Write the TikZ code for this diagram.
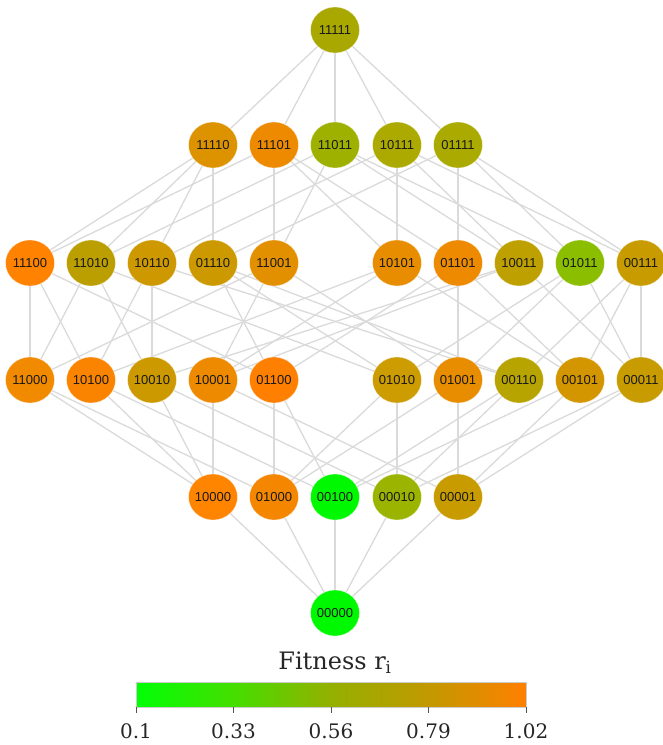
\documentclass[tikz,border=0pt]{standalone}
\usepackage{fontspec}
\setmainfont{DejaVu Serif}
\newfontfamily\labelfont{Liberation Sans}
\usetikzlibrary{shapes.geometric,backgrounds}

% node fill colours
\definecolor{c11111}{HTML}{A9A800}
\definecolor{c11110}{HTML}{DD9300}
\definecolor{c11101}{HTML}{EE8A00}
\definecolor{c11011}{HTML}{9EB000}
\definecolor{c10111}{HTML}{ACAA00}
\definecolor{c01111}{HTML}{AAAA00}
\definecolor{c11100}{HTML}{FF8200}
\definecolor{c11010}{HTML}{BB9E00}
\definecolor{c10110}{HTML}{CE9800}
\definecolor{c01110}{HTML}{CC9A00}
\definecolor{c11001}{HTML}{E39000}
\definecolor{c10101}{HTML}{E88D00}
\definecolor{c01101}{HTML}{EE8A00}
\definecolor{c10011}{HTML}{BEA000}
\definecolor{c01011}{HTML}{8CBE00}
\definecolor{c00111}{HTML}{C89C00}
\definecolor{c11000}{HTML}{F28A00}
\definecolor{c10100}{HTML}{FA8400}
\definecolor{c10010}{HTML}{CC9A00}
\definecolor{c10001}{HTML}{EE8A00}
\definecolor{c01100}{HTML}{FF8000}
\definecolor{c01010}{HTML}{CC9C00}
\definecolor{c01001}{HTML}{E88C00}
\definecolor{c00110}{HTML}{B8A400}
\definecolor{c00101}{HTML}{D49600}
\definecolor{c00011}{HTML}{C89C00}
\definecolor{c10000}{HTML}{FF8400}
\definecolor{c01000}{HTML}{F48600}
\definecolor{c00100}{HTML}{00F800}
\definecolor{c00010}{HTML}{9AB400}
\definecolor{c00001}{HTML}{C89C00}
\definecolor{c00000}{HTML}{00F800}
\definecolor{edgegray}{HTML}{DADADA}
\definecolor{tickgray}{HTML}{555555}

\pgfdeclarehorizontalshading{fitbar}{100bp}{%
  rgb(0bp)=(0,1,0.02);
  rgb(25bp)=(0,1,0.02);
  rgb(37.5bp)=(0.27,0.87,0);
  rgb(50bp)=(0.58,0.69,0);
  rgb(62.5bp)=(0.76,0.6,0);
  rgb(75bp)=(1,0.5,0);
  rgb(100bp)=(1,0.5,0)}

% the label sits in a zero-width box so every disc keeps the same size
\newcommand{\bitlabel}[1]{\makebox[0pt]{#1}}

\tikzset{
  state/.style={ellipse, minimum width=49pt, minimum height=46pt, inner sep=0pt,
    fill=c#1, draw=white, draw opacity=0.5, line width=0.6pt,
    font=\labelfont\fontsize{13}{15}\selectfont, text=black!90},
  link/.style={draw=edgegray, line width=1.3pt},
  tick/.style={draw=tickgray, line width=0.9pt},
  ticklabel/.style={font=\fontsize{20}{24}\selectfont, text=black!85, anchor=base}
}

\begin{document}
\begin{tikzpicture}[x=1pt,y=-1pt]
\useasboundingbox (0,0) rectangle (663,745);

% weight 5
\node[state=11111] (n11111) at (335,30) {\bitlabel{11111}};
% weight 4
\foreach \s/\x in {11110/213,11101/274,11011/335,10111/397,01111/458}
  \node[state=\s] (n\s) at (\x,145) {\bitlabel{\s}};
% weight 3
\foreach \s/\x in {11100/30,11010/91,10110/152,01110/213,11001/274,
                   10101/397,01101/458,10011/519,01011/580,00111/641}
  \node[state=\s] (n\s) at (\x,263) {\bitlabel{\s}};
% weight 2
\foreach \s/\x in {11000/30,10100/91,10010/152,10001/213,01100/274,
                   01010/397,01001/458,00110/519,00101/580,00011/641}
  \node[state=\s] (n\s) at (\x,380) {\bitlabel{\s}};
% weight 1
\foreach \s/\x in {10000/213,01000/274,00100/335,00010/397,00001/458}
  \node[state=\s] (n\s) at (\x,497) {\bitlabel{\s}};
% weight 0
\node[state=00000] (n00000) at (335,613) {\bitlabel{00000}};

% single bit flips
\begin{pgfonlayer}{background}
\foreach \a/\b in {
  11111/01111,11111/10111,11111/11011,11111/11101,11111/11110,
  11110/01110,11110/10110,11110/11010,11110/11100,
  11101/01101,11101/10101,11101/11001,11101/11100,
  11011/01011,11011/10011,11011/11001,11011/11010,
  10111/00111,10111/10011,10111/10101,10111/10110,
  01111/00111,01111/01011,01111/01101,01111/01110,
  11100/01100,11100/10100,11100/11000,
  11010/01010,11010/10010,11010/11000,
  10110/00110,10110/10010,10110/10100,
  01110/00110,01110/01010,01110/01100,
  11001/01001,11001/10001,11001/11000,
  10101/00101,10101/10001,10101/10100,
  01101/00101,01101/01001,01101/01100,
  10011/00011,10011/10001,10011/10010,
  01011/00011,01011/01001,01011/01010,
  00111/00011,00111/00101,00111/00110,
  11000/01000,11000/10000,
  10100/00100,10100/10000,
  10010/00010,10010/10000,
  10001/00001,10001/10000,
  01100/00100,01100/01000,
  01010/00010,01010/01000,
  01001/00001,01001/01000,
  00110/00010,00110/00100,
  00101/00001,00101/00100,
  00011/00001,00011/00010,
  10000/00000,01000/00000,00100/00000,00010/00000,00001/00000}
  \draw[link] (n\a) -- (n\b);
\end{pgfonlayer}

% colour bar
\node[font=\fontsize{24}{28}\selectfont, text=black!85] (title) at (335,663) {Fitness r\textsubscript{i}};
\shade[shading=fitbar] (136,682) rectangle (526,707);
\draw[draw=black!20, line width=0.6pt] (136,682) rectangle (526,707);
\foreach \v [count=\i from 0] in {0.1,0.33,0.56,0.79,1.02} {
  \coordinate (t\i) at (136+97.5*\i,707);
  \draw[tick] (t\i) -- ++(0,6);
  \node[ticklabel] (tl\i) at (136+97.5*\i,738) {\v};
}
\end{tikzpicture}
\end{document}
